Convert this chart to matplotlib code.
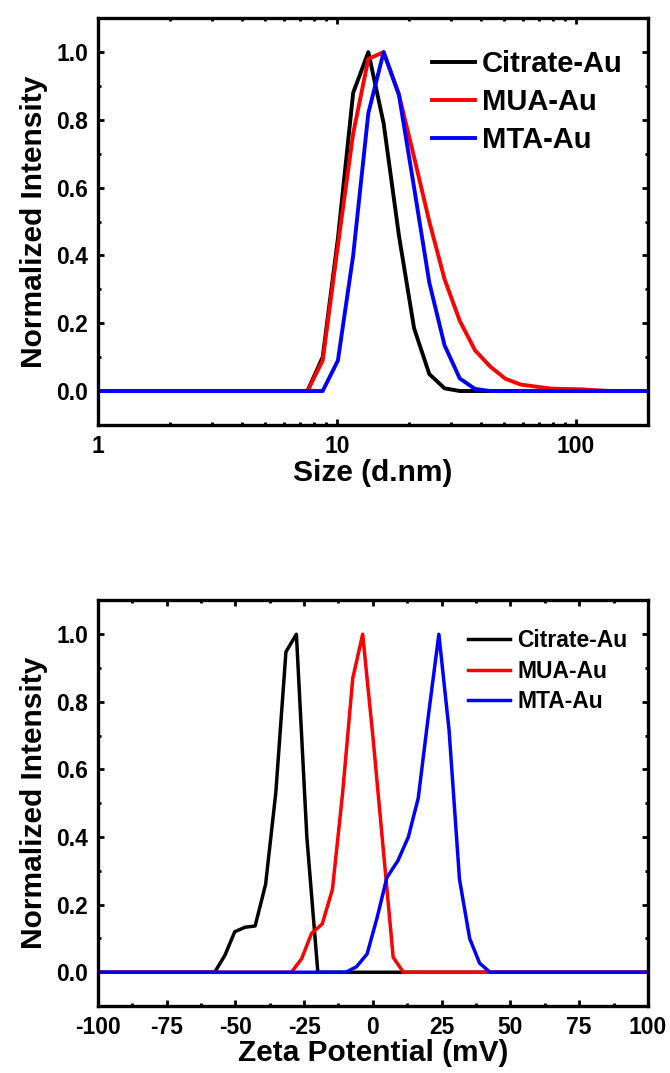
import matplotlib
matplotlib.use('Agg')
import matplotlib.pyplot as plt
from matplotlib.ticker import MultipleLocator, FuncFormatter, NullFormatter, LogLocator

# ---------- fonts ----------
plt.rcParams['font.family'] = ['Liberation Sans', 'DejaVu Sans']
plt.rcParams['font.weight'] = 'bold'
plt.rcParams['axes.unicode_minus'] = False

# ---------- DLS size distribution ----------
size_nm = [0.9649, 1.117, 1.294, 1.499, 1.736, 2.010, 2.328, 2.696, 3.122, 3.615,
           4.187, 4.849, 5.615, 6.503, 7.531, 8.721, 10.10, 11.70, 13.54, 15.69,
           18.17, 21.04, 24.36, 28.21, 32.67, 37.84, 43.82, 50.75, 58.77, 68.06,
           78.82, 91.28, 105.7, 122.4, 141.8, 164.2, 190.1, 220.2]
size_citrate = [0, 0, 0, 0, 0, 0, 0, 0, 0, 0,
                0, 0, 0, 0, 0, 0.10, 0.45, 0.88, 1.0, 0.79,
                0.46, 0.185, 0.05, 0.008, 0, 0, 0, 0, 0, 0,
                0, 0, 0, 0, 0, 0, 0, 0]
size_mua = [0, 0, 0, 0, 0, 0, 0, 0, 0, 0,
            0, 0, 0, 0, 0, 0.09, 0.43, 0.76, 0.98, 1.0,
            0.875, 0.69, 0.50, 0.33, 0.207, 0.12, 0.072, 0.036, 0.019, 0.013,
            0.007, 0.006, 0.005, 0.002, 0, 0, 0, 0]
size_mta = [0, 0, 0, 0, 0, 0, 0, 0, 0, 0,
            0, 0, 0, 0, 0, 0, 0.09, 0.40, 0.82, 1.0,
            0.875, 0.60, 0.32, 0.135, 0.037, 0.006, 0, 0, 0, 0,
            0, 0, 0, 0, 0, 0, 0, 0]

# ---------- zeta potential ----------
zeta_citrate_x = [-100, -57.5, -53.8, -50.2, -46.5, -42.8, -39.0, -35.3, -31.6, -27.8, -24.0, -20.0, 100]
zeta_citrate_y = [0, 0, 0.05, 0.12, 0.133, 0.137, 0.26, 0.53, 0.948, 1.0, 0.40, 0, 0]
zeta_mua_x = [-100, -29.6, -25.9, -22.3, -18.4, -14.7, -11.0, -7.3, -3.7, 0.1, 7.4, 11.1, 100]
zeta_mua_y = [0, 0, 0.04, 0.115, 0.143, 0.245, 0.53, 0.87, 1.0, 0.69, 0.044, 0, 0]
zeta_mta_x = [-100, -9.8, -6.0, -2.1, 1.5, 5.1, 9.1, 12.9, 16.5, 20.2, 24.0, 27.7, 31.5, 35.2, 38.8, 42.6, 100]
zeta_mta_y = [0, 0, 0.016, 0.054, 0.16, 0.28, 0.33, 0.40, 0.515, 0.76, 1.0, 0.717, 0.275, 0.10, 0.027, 0, 0]

labels = ['Citrate-Au', 'MUA-Au', 'MTA-Au']
colors = ['#000000', '#ff0000', '#0000ff']

fig = plt.figure(figsize=(6.7, 10.73), dpi=100)
ax1 = fig.add_axes([0.146, 0.604, 0.821, 0.379])
ax2 = fig.add_axes([0.146, 0.0624, 0.821, 0.378])


def style_axes(ax):
    for sp in ax.spines.values():
        sp.set_linewidth(2.4)
    ax.tick_params(which='both', direction='in', top=True, right=True, width=2,
                   labelsize=16.5, pad=7)
    ax.tick_params(which='major', length=4.5)
    ax.tick_params(which='minor', length=2.5)
    ax.set_ylim(-0.1, 1.1)
    ax.yaxis.set_major_locator(MultipleLocator(0.2))
    ax.yaxis.set_minor_locator(MultipleLocator(0.1))
    ax.yaxis.set_major_formatter(FuncFormatter(lambda v, p: f'{v:.1f}'))
    ax.set_ylabel('Normalized Intensity', fontsize=21.5, fontweight='bold', labelpad=6)


# ---------- top: size ----------
for yv, lab, c in zip([size_citrate, size_mua, size_mta], labels, colors):
    ax1.plot(size_nm, yv, color=c, lw=2.8, label=lab)
ax1.set_xscale('log')
ax1.set_xlim(1, 200)
ax1.xaxis.set_major_locator(LogLocator(base=10))
ax1.xaxis.set_minor_locator(LogLocator(base=10, subs=range(2, 10)))
ax1.xaxis.set_major_formatter(FuncFormatter(lambda v, p: f'{v:g}'))
ax1.xaxis.set_minor_formatter(NullFormatter())
style_axes(ax1)
ax1.set_xlabel('Size (d.nm)', fontsize=21.5, fontweight='bold', labelpad=1)
ax1.legend(loc='upper left', bbox_to_anchor=(0.607, 0.921), frameon=False, fontsize=21,
           handlelength=1.48, handletextpad=0.25, labelspacing=0.34,
           borderpad=0, borderaxespad=0)

# ---------- bottom: zeta ----------
for xv, yv, lab, c in zip([zeta_citrate_x, zeta_mua_x, zeta_mta_x],
                          [zeta_citrate_y, zeta_mua_y, zeta_mta_y], labels, colors):
    ax2.plot(xv, yv, color=c, lw=2.5, label=lab)
ax2.set_xlim(-100, 100)
ax2.xaxis.set_major_locator(MultipleLocator(25))
ax2.xaxis.set_minor_locator(MultipleLocator(12.5))
ax2.xaxis.set_major_formatter(FuncFormatter(lambda v, p: f'{v:.0f}'))
style_axes(ax2)
ax2.set_xlabel('Zeta Potential (mV)', fontsize=21.5, fontweight='bold', labelpad=0)
ax2.legend(loc='upper left', bbox_to_anchor=(0.673, 0.929), frameon=False, fontsize=16.5,
           handlelength=1.85, handletextpad=0.3, labelspacing=0.32,
           borderpad=0, borderaxespad=0)

fig.savefig('out.png', dpi=100)
